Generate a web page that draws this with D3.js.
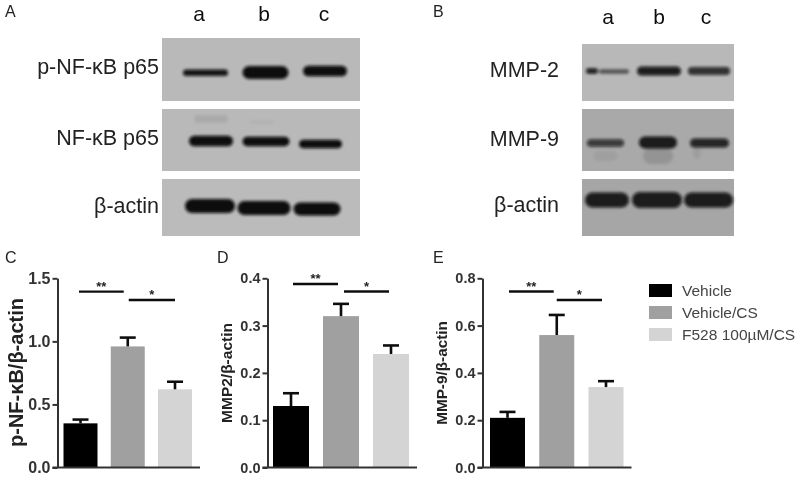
<!DOCTYPE html>
<html><head><meta charset="utf-8">
<style>html,body{margin:0;padding:0;background:#fff}svg{display:block}text{font-family:"Liberation Sans",Arial,sans-serif}</style>
<script src="https://cdn.jsdelivr.net/npm/d3@7"></script></head><body>
<svg id="c" width="800" height="479"></svg>
<script>
// Bar chart data
const groups = ["Vehicle", "Vehicle/CS", "F528 100µM/CS"];
const groupColors = ["#000000", "#a0a0a0", "#d4d4d4"];
const pNFkB = [0.35, 0.96, 0.62];
const pNFkBTop = [0.38, 1.03, 0.68];
const mmp2 = [0.13, 0.32, 0.24];
const mmp2Top = [0.157, 0.346, 0.258];
const mmp9 = [0.21, 0.56, 0.34];
const mmp9Top = [0.235, 0.645, 0.365];
const pNFkBTicks = ["0.0", "0.5", "1.0", "1.5"];
const mmp2Ticks = ["0.0", "0.1", "0.2", "0.3", "0.4"];
const mmp9Ticks = ["0.0", "0.2", "0.4", "0.6", "0.8"];
const pNFkBSig = [1.394, 1.328];
const mmp2Sig = [0.388, 0.372];
const mmp9Sig = [0.744, 0.708];
const sigMarks = ["**", "*"];
const lanes = ["a", "b", "c"];

// Blot densitometry readings in gel units: [lane centre, migration, band length, band thickness, darkness]
const blotAPhospho = [[43.5,34.7,45,6.5,0.95],[103.5,34.5,46,13,1],[163,33,44,10.5,1]];
const blotATotal = [[49,32,44,10.5,1],[104,32.5,47,9.5,1],[158.5,35,43,8.5,1],[49,10,34,8,0.08],[100,13,24,3,0.05]];
const blotAActin = [[48,27,50,14,1],[102,29,53,14,1],[155,30,47,13,1]];
const blotBMmp2 = [[10,27,12,5.5,0.9],[32,27.5,30,4.5,0.55],[77,27,44,9,0.9],[127,27,42,8,0.8]];
const blotBMmp9 = [[23.5,34,37,7.5,0.72],[76,33.5,38,12,0.92],[127.5,34,39,9,0.85],[76,47,30,16,0.12],[23.5,47,24,10,0.06],[115,44,8,12,0.07]];
const blotBActin = [[25,21,44,15,0.9],[75,21,50,16,0.9],[126.5,21,49,15,0.9]];

const svg = d3.select("#c");
const defs = svg.append("defs");
defs.append("filter").attr("id","soft").attr("x","-5%").attr("y","-5%").attr("width","110%").attr("height","110%")
  .append("feGaussianBlur").attr("stdDeviation",0.45);
defs.append("filter").attr("id","band").attr("x","-20%").attr("y","-60%").attr("width","140%").attr("height","220%")
  .append("feGaussianBlur").attr("stdDeviation",1.4);
const root = svg.append("g").attr("filter","url(#soft)");

function text(s,x,y,size,opt={}){
  return root.append("text").attr("x",x).attr("y",y).attr("font-size",size)
    .attr("text-anchor",opt.anchor||"start").attr("font-weight",opt.weight||"normal")
    .attr("fill",opt.fill||"#1a1a1a").text(s);
}

// Panel letters
[["A",5,17],["B",433,17],["C",5,263],["D",217,263],["E",433,263]].forEach(d=>text(d[0],d[1],d[2],16,{fill:"#222"}));

// Blots
function blot(x0,x1,strips,laneX,laneBase,labelRight){
  const gx = d3.scaleLinear().domain([0,x1-x0]).range([x0,x1]);
  lanes.forEach((l,i)=>text(l,laneX[i],laneBase,21,{anchor:"middle",fill:"#111"}));
  strips.forEach(s=>{
    const gy = d3.scaleLinear().domain([0,s.h]).range([s.top,s.top+s.h]);
    root.append("rect").attr("x",gx(0)).attr("y",gy(0)).attr("width",gx(x1-x0)-gx(0)).attr("height",gy(s.h)-gy(0)).attr("fill",s.bg);
    const g = root.append("g").attr("filter","url(#band)");
    g.selectAll("rect").data(s.bands).join("rect")
      .attr("x",d=>gx(d[0]-d[2]/2)).attr("width",d=>gx(d[2])-gx(0))
      .attr("y",d=>gy(d[1]-d[3]/2)).attr("height",d=>gy(d[3])-gy(0))
      .attr("rx",d=>d[3]/2).attr("fill","#0a0a0a").attr("opacity",d=>d[4]);
    text(s.label,labelRight,s.base,21.5,{anchor:"end",fill:"#222"});
  });
}
blot(162,360,[
  {top:38,h:63,bg:"#b9b9b9",bands:blotAPhospho,label:"p-NF-κB p65",base:74},
  {top:109,h:62,bg:"#b9b9b9",bands:blotATotal,label:"NF-κB p65",base:145},
  {top:179,h:57,bg:"#bbbbbb",bands:blotAActin,label:"β-actin",base:213}
],[199,264,324],21,159);
blot(582,734,[
  {top:44,h:57,bg:"#b8b8b8",bands:blotBMmp2,label:"MMP-2",base:77},
  {top:109,h:62,bg:"#a9a9a9",bands:blotBMmp9,label:"MMP-9",base:146},
  {top:179,h:57,bg:"#a6a6a6",bands:blotBActin,label:"β-actin",base:212}
],[608,659,706],24,559);

// Bar charts
function chart(c){
  const y = d3.scaleLinear().domain([0,c.max]).range([467.5,278.3]);
  const x = d3.scalePoint().domain(groups).range(c.centers);
  const g = root.append("g");
  g.selectAll("rect").data(c.vals).join("rect")
    .attr("x",(d,i)=>x(groups[i])-c.bw/2).attr("width",c.bw)
    .attr("y",d=>y(d)).attr("height",d=>y(0)-y(d))
    .attr("fill",(d,i)=>groupColors[i]);
  c.tops.forEach((t,i)=>{
    const cx = x(groups[i]);
    g.append("line").attr("x1",cx).attr("x2",cx).attr("y1",y(c.vals[i])).attr("y2",y(t)).attr("stroke","#111").attr("stroke-width",2.6);
    g.append("line").attr("x1",cx-8).attr("x2",cx+8).attr("y1",y(t)).attr("y2",y(t)).attr("stroke","#111").attr("stroke-width",2.6);
  });
  const axis = d3.axisLeft(y).tickValues(c.ticks.map(Number)).tickFormat((d,i)=>c.ticks[i]).tickSize(5).tickSizeOuter(0).tickPadding(2);
  const ag = root.append("g").attr("transform",`translate(${c.axisX},0)`).call(axis);
  ag.selectAll("path,line").attr("stroke","#333").attr("stroke-width",2);
  ag.selectAll("text").attr("font-size",c.tickSize).attr("font-weight","bold").attr("fill","#333");
  root.append("line").attr("x1",c.axisX-5).attr("x2",c.xEnd).attr("y1",y(0)).attr("y2",y(0)).attr("stroke","#333").attr("stroke-width",2);
  root.append("text").attr("transform",`translate(${c.labelX},${c.labelY}) rotate(-90)`).attr("text-anchor","middle")
    .attr("font-size",c.labelSize).attr("font-weight","bold").attr("fill","#222").text(c.label);
  c.sig.forEach((v,i)=>{
    const a = x(groups[i])+c.sigOff[i][0], b = x(groups[i+1])+c.sigOff[i][1];
    root.append("line").attr("x1",a).attr("x2",b).attr("y1",y(v)).attr("y2",y(v)).attr("stroke","#111").attr("stroke-width",2.4);
    text(sigMarks[i],(a+b)/2,y(v)-1,13,{anchor:"middle",weight:"bold",fill:"#222"});
  });
}
chart({max:1.5,vals:pNFkB,tops:pNFkBTop,ticks:pNFkBTicks,sig:pNFkBSig,centers:[80.5,175],bw:34,axisX:57.5,xEnd:200,tickSize:16,
  label:"p-NF-κB/β-actin",labelX:22.5,labelY:372.5,labelSize:20,sigOff:[[-1.5,-4],[1,0]]});
chart({max:0.4,vals:mmp2,tops:mmp2Top,ticks:mmp2Ticks,sig:mmp2Sig,centers:[291,391],bw:36,axisX:267.5,xEnd:417,tickSize:14.5,
  label:"MMP2/β-actin",labelX:231.5,labelY:373,labelSize:15.5,sigOff:[[2,-3],[3,-2]]});
chart({max:0.8,vals:mmp9,tops:mmp9Top,ticks:mmp9Ticks,sig:mmp9Sig,centers:[507.5,606],bw:35,axisX:482.5,xEnd:631.5,tickSize:14.5,
  label:"MMP-9/β-actin",labelX:447,labelY:373,labelSize:15.3,sigOff:[[1.5,-3],[0,-4]]});

// Legend
const ly = d3.scalePoint().domain(groups).range([290.5,334.5]);
groups.forEach((g,i)=>{
  root.append("rect").attr("x",649).attr("y",ly(g)-6.5).attr("width",23).attr("height",13).attr("fill",groupColors[i]);
  text(g,682,ly(g)+5.5,15.5,{fill:"#444"});
});
</script></body></html>
